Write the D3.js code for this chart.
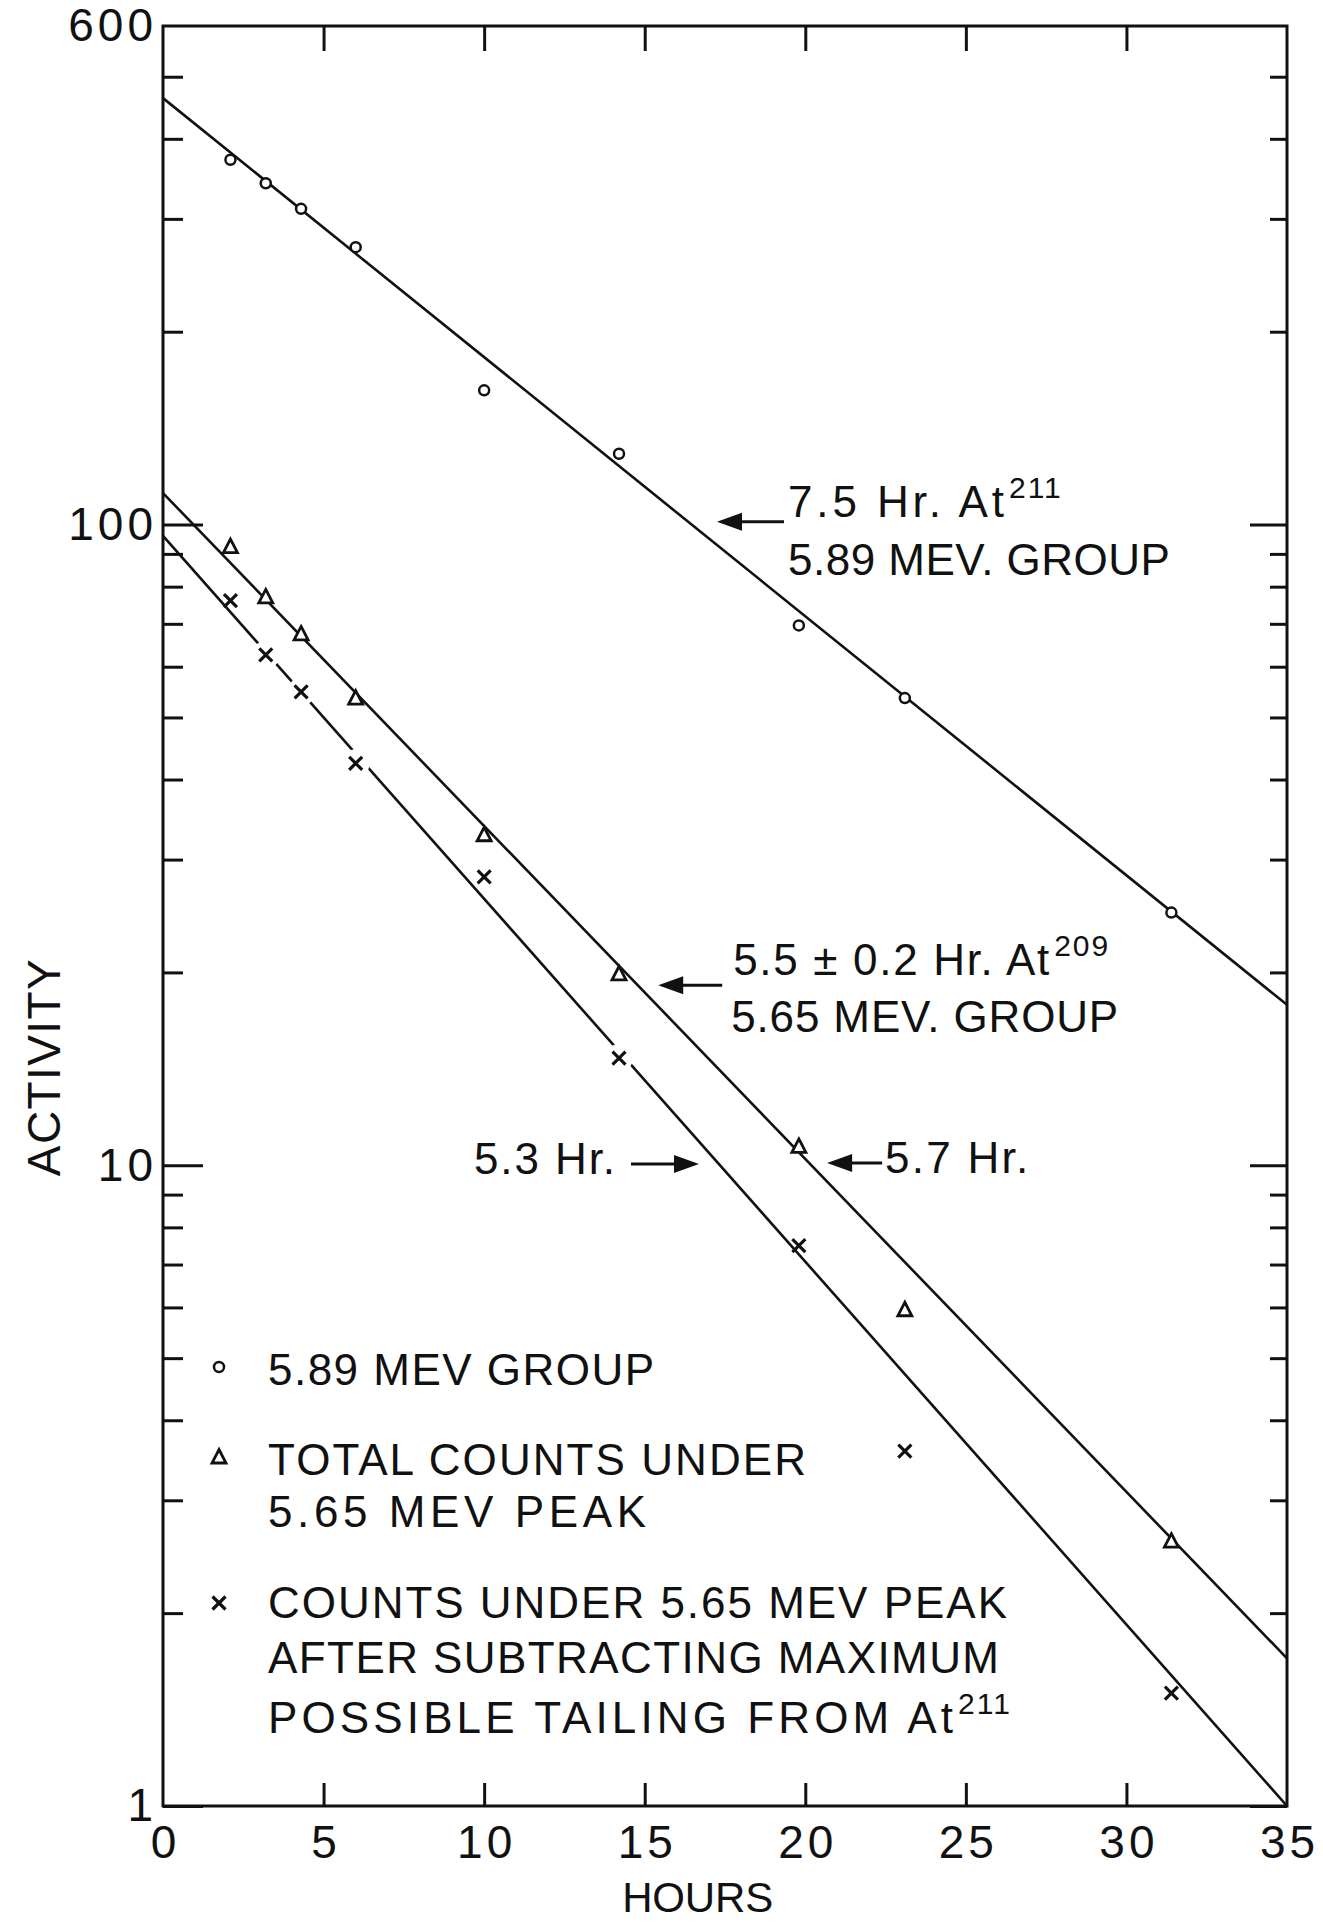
<!DOCTYPE html>
<html>
<head>
<meta charset="utf-8">
<script src="https://cdn.jsdelivr.net/npm/d3@7"></script>
<style>
body{margin:0;background:#fff;}
svg text{font-family:"Liberation Sans", Arial, sans-serif; fill:#111;}
</style>
</head>
<body>
<script>
// measurement times (hours) - same for all three sets
var hours = [2.1, 3.2, 4.3, 6.0, 10.0, 14.2, 19.8, 23.1, 31.4];
var group589 = [371, 341, 311, 271, 162, 129, 69.6, 53.6, 24.8];
var total565 = [92.4, 77.1, 67.5, 53.6, 32.8, 19.9, 10.7, 5.95, 2.59];
var corrected565 = [76.1, 62.6, 54.8, 42.4, 28.2, 14.7, 7.49, 3.58, 1.50];
// crosses lying on the 5.3 hr line; the line is broken round them
var onLine = [false, true, true, true, false, true, false, false, false];

// fitted decay lines, [hours, activity] at both ends
var fit211 = [[0, 463], [35, 17.8]];
var fitTotal = [[0, 112], [35, 1.70]];
var fitCorr = [[0, 96], [35, 1.0]];

var xTicks = [0, 5, 10, 15, 20, 25, 30, 35];
var yLabels = [1, 10, 100, 600];

var svgW = 1323, svgH = 1930;
var pl = 163, pr = 1287, pt = 26, pb = 1806;

var x = d3.scaleLinear().domain([0, 35]).range([pl, pr]);
var y = d3.scaleLog().domain([1, 600]).range([pb, pt]);

var svg = d3.select("body").append("svg").attr("width", svgW).attr("height", svgH);
svg.append("rect").attr("width", svgW).attr("height", svgH).attr("fill", "#fff");

// log ticks 1..9 per decade up to 500
var minor = [], major = [1, 10, 100];
[1, 10, 100].forEach(function(dec){
    d3.range(2, 10).forEach(function(k){ if(k*dec < 600) minor.push(k*dec); });
});

function tickAxis(axis, g){
    g.call(axis);
    g.select(".domain").remove();
    g.selectAll(".tick line").attr("stroke", "#111").attr("stroke-width", 3);
    g.selectAll("text").attr("font-size", 46).attr("font-family", "Liberation Sans, Arial, sans-serif")
        .attr("fill", "#111").attr("letter-spacing", 4);
}

var gl = svg.append("g").attr("transform", "translate(" + pl + ",0)");
tickAxis(d3.axisLeft(y).tickValues(minor).tickSize(-20).tickFormat(""), gl.append("g"));
tickAxis(d3.axisLeft(y).tickValues(major).tickSize(-40).tickFormat(""), gl.append("g"));
tickAxis(d3.axisLeft(y).tickValues(yLabels).tickSize(0).tickPadding(6).tickFormat(d3.format("d")), gl.append("g"));

var gr = svg.append("g").attr("transform", "translate(" + pr + ",0)");
tickAxis(d3.axisRight(y).tickValues(minor).tickSize(-17).tickFormat(""), gr.append("g"));
tickAxis(d3.axisRight(y).tickValues(major).tickSize(-37).tickFormat(""), gr.append("g"));

tickAxis(d3.axisBottom(x).tickValues(xTicks.slice(1, -1)).tickSize(-23).tickFormat(""),
    svg.append("g").attr("transform", "translate(0," + pb + ")"));
tickAxis(d3.axisBottom(x).tickValues(xTicks).tickSize(0).tickPadding(19).tickFormat(d3.format("d")),
    svg.append("g").attr("transform", "translate(2," + pb + ")"));
tickAxis(d3.axisTop(x).tickValues(xTicks.slice(1, -1)).tickSize(-25).tickFormat(""),
    svg.append("g").attr("transform", "translate(0," + pt + ")"));

// frame
svg.append("rect").attr("x", pl).attr("y", pt).attr("width", pr - pl).attr("height", pb - pt)
    .attr("fill", "none").attr("stroke", "#111").attr("stroke-width", 3);

// axis titles
svg.append("text").attr("x", x(16.65)).attr("y", 1912).attr("text-anchor", "middle")
    .attr("font-size", 42).attr("textLength", 151).attr("lengthAdjust", "spacing").text("HOURS");
svg.append("text").attr("transform", "translate(60," + y(14.2) + ") rotate(-90)").attr("text-anchor", "middle")
    .attr("font-size", 46).attr("textLength", 217).attr("lengthAdjust", "spacing").text("ACTIVITY");

// fitted lines
var line = d3.line().x(function(d){ return x(d[0]); }).y(function(d){ return y(d[1]); });
[fit211, fitTotal, fitCorr].forEach(function(f){
    svg.append("path").attr("d", line(f)).attr("fill", "none").attr("stroke", "#111").attr("stroke-width", 2.6);
});

function pts(vals){ return hours.map(function(h, i){ return {t:h, v:vals[i], gap:onLine[i]}; }); }

// gaps in the 5.3 hr line
svg.append("g").selectAll("circle").data(pts(corrected565).filter(function(d){ return d.gap; })).enter()
    .append("circle").attr("cx", function(d){ return x(d.t); }).attr("cy", function(d){ return y(d.v); })
    .attr("r", 14).attr("fill", "#fff");

var triPath = "M0,-7.5L7,6L-7,6Z";
var crossPath = "M-6.5,-6.5L6.5,6.5M6.5,-6.5L-6.5,6.5";

svg.append("g").selectAll("circle").data(pts(group589)).enter().append("circle")
    .attr("cx", function(d){ return x(d.t); }).attr("cy", function(d){ return y(d.v); }).attr("r", 5)
    .attr("fill", "#fff").attr("stroke", "#111").attr("stroke-width", 2.5);

svg.append("g").selectAll("path").data(pts(total565)).enter().append("path")
    .attr("transform", function(d){ return "translate(" + x(d.t) + "," + y(d.v) + ")"; })
    .attr("d", triPath).attr("fill", "#fff").attr("stroke", "#111").attr("stroke-width", 2.8);

svg.append("g").selectAll("path").data(pts(corrected565)).enter().append("path")
    .attr("transform", function(d){ return "translate(" + x(d.t) + "," + y(d.v) + ")"; })
    .attr("d", crossPath).attr("fill", "none").attr("stroke", "#111").attr("stroke-width", 3.2);

// annotations: arrow tip in data units, text offsets in px
function arrow(t, v, len){
    var x0 = x(t), y0 = y(v), dir = len > 0 ? 1 : -1;
    svg.append("line").attr("x1", x0 + dir*20).attr("y1", y0).attr("x2", x0 + len).attr("y2", y0)
        .attr("stroke", "#111").attr("stroke-width", 3);
    svg.append("path").attr("d", "M" + x0 + "," + y0 + "L" + (x0 + dir*25) + "," + (y0 - 9) + "L" + (x0 + dir*25) + "," + (y0 + 9) + "Z")
        .attr("fill", "#111");
    return [x0, y0];
}
function label(px, py, str, w, sup, anchor){
    var t = svg.append("text").attr("x", px).attr("y", py).attr("font-size", 44)
        .attr("textLength", w).attr("lengthAdjust", "spacing").text(str);
    if(anchor) t.attr("text-anchor", anchor);
    if(sup) svg.append("text").attr("x", px + w + 5).attr("y", py - 19).attr("font-size", 30)
        .attr("letter-spacing", 2).text(sup);
}

var a1 = arrow(17.25, 101, 67);
label(a1[0] + 71, a1[1] - 5, "7.5 Hr. At", 216, "211");
label(a1[0] + 71, a1[1] + 53, "5.89 MEV. GROUP", 382);

var a2 = arrow(15.42, 19.1, 64);
label(a2[0] + 75, a2[1] - 10, "5.5 \u00b1 0.2 Hr. At", 316, "209");
label(a2[0] + 73, a2[1] + 47, "5.65 MEV. GROUP", 387);

var a3 = arrow(16.69, 10.05, -68);
label(a3[0] - 84, a3[1] + 10, "5.3 Hr.", 141, null, "end");

var a4 = arrow(20.68, 10.08, 55);
label(a4[0] + 58, a4[1] + 10, "5.7 Hr.", 143);

// legend
var lx = 268, mx = 219;
svg.append("circle").attr("cx", mx).attr("cy", 1367).attr("r", 5)
    .attr("fill", "#fff").attr("stroke", "#111").attr("stroke-width", 2.5);
svg.append("path").attr("transform", "translate(" + mx + ",1457)").attr("d", triPath)
    .attr("fill", "#fff").attr("stroke", "#111").attr("stroke-width", 2.8);
svg.append("path").attr("transform", "translate(" + mx + ",1603)").attr("d", crossPath)
    .attr("fill", "none").attr("stroke", "#111").attr("stroke-width", 3.2);

label(lx, 1385, "5.89 MEV GROUP", 386);
label(lx, 1475, "TOTAL COUNTS UNDER", 538);
label(lx, 1527, "5.65 MEV PEAK", 378);
label(lx, 1618, "COUNTS UNDER 5.65 MEV PEAK", 739);
label(lx, 1673, "AFTER SUBTRACTING MAXIMUM", 731);
label(lx, 1733, "POSSIBLE TAILING FROM At", 685, "211");
</script>
</body>
</html>
